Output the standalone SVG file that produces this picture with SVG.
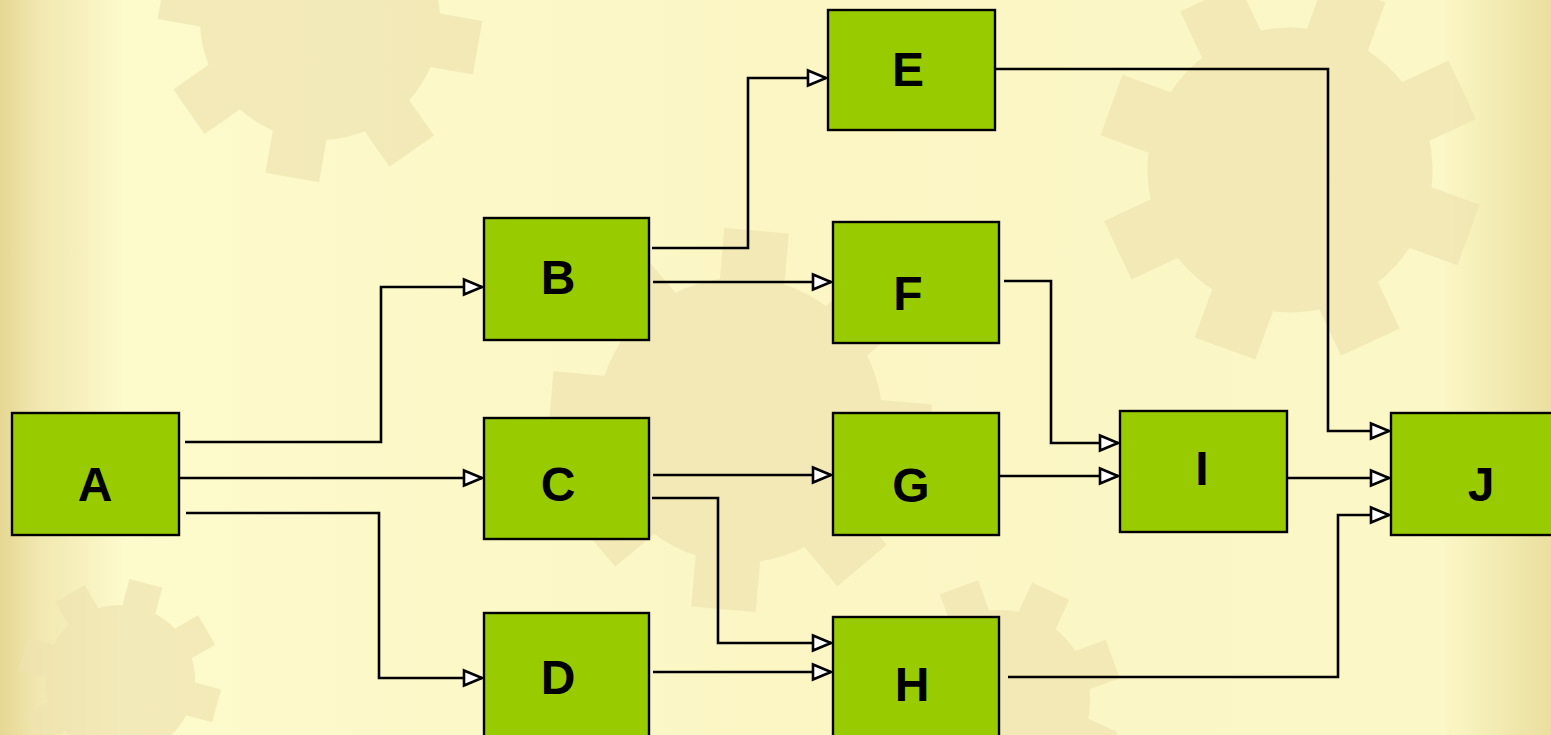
<svg xmlns="http://www.w3.org/2000/svg" xmlns:xlink="http://www.w3.org/1999/xlink" width="1551" height="735" viewBox="0 0 1551 735">
<defs>
<linearGradient id="bg" x1="0" y1="0" x2="1" y2="0">
<stop offset="0" stop-color="#E6D893"/>
<stop offset="0.025" stop-color="#F1E7B0"/>
<stop offset="0.08" stop-color="#FDFACC"/>
<stop offset="0.5" stop-color="#FBF6C4"/>
<stop offset="0.93" stop-color="#FBF7C6"/>
<stop offset="1" stop-color="#EADF9F"/>
</linearGradient>
<g id="gear">
<circle r="150"/>
<rect x="-34" y="-200" width="68" height="400"/>
<rect x="-34" y="-200" width="68" height="400" transform="rotate(45)"/>
<rect x="-34" y="-200" width="68" height="400" transform="rotate(90)"/>
<rect x="-34" y="-200" width="68" height="400" transform="rotate(135)"/>
</g>
<marker id="arr" markerUnits="userSpaceOnUse" markerWidth="26" markerHeight="22" viewBox="-22 -11 26 22" refX="0" refY="0" orient="auto">
<path d="M-18,-7.5 L0,0 L-18,7.5 Z" fill="#FFFFFF" stroke="#000000" stroke-width="2.6" stroke-linejoin="miter"/>
</marker>
<style>
.node rect{fill:#99CC00;stroke:#000000;stroke-width:2.4}
.node text{font-family:"Liberation Sans",Arial,sans-serif;font-weight:bold;font-size:48px;fill:#000000;text-anchor:middle}
.conn path{fill:none;stroke:#000000;stroke-width:2.6;marker-end:url(#arr)}
.gear{fill:#EFE4B1;opacity:0.7}
</style>
</defs>
<rect width="1551" height="735" fill="url(#bg)"/>
<g id="background">
<use xlink:href="#gear" class="gear" transform="translate(320,20) rotate(10) scale(0.8)"/>
<use xlink:href="#gear" class="gear" transform="translate(1290,170) rotate(20) scale(0.95)"/>
<use xlink:href="#gear" class="gear" transform="translate(740,420) rotate(5) scale(0.95)"/>
<use xlink:href="#gear" class="gear" transform="translate(1000,700) rotate(25) scale(0.6)"/>
<use xlink:href="#gear" class="gear" transform="translate(120,680) rotate(15) scale(0.5)"/>
</g>
<g id="connectors" class="conn">
<path d="M185,442 H381 V287 H482"/>
<path d="M179,478 H482"/>
<path d="M186,513 H379 V678 H482"/>
<path d="M652,248 H748 V78 H826"/>
<path d="M653,282 H831"/>
<path d="M653,475 H831"/>
<path d="M652,498 H718 V643 H831"/>
<path d="M653,672 H831"/>
<path d="M992,69 H1328 V431 H1389"/>
<path d="M1004,281 H1051 V443 H1118"/>
<path d="M999,476 H1118"/>
<path d="M1287,478 H1389"/>
<path d="M1008,677 H1338 V515 H1389"/>
</g>
<g id="node-A" class="node"><rect x="12" y="413" width="167" height="122"/><text x="95" y="501">A</text></g>
<g id="node-B" class="node"><rect x="484" y="218" width="165" height="122"/><text x="558" y="294">B</text></g>
<g id="node-C" class="node"><rect x="484" y="418" width="165" height="121"/><text x="558" y="501">C</text></g>
<g id="node-D" class="node"><rect x="484" y="613" width="165" height="125"/><text x="558" y="694">D</text></g>
<g id="node-E" class="node"><rect x="828" y="10" width="167" height="120"/><text x="908" y="86">E</text></g>
<g id="node-F" class="node"><rect x="833" y="222" width="166" height="121"/><text x="908" y="310">F</text></g>
<g id="node-G" class="node"><rect x="833" y="413" width="166" height="122"/><text x="911" y="502">G</text></g>
<g id="node-H" class="node"><rect x="833" y="617" width="166" height="125"/><text x="912" y="701">H</text></g>
<g id="node-I" class="node"><rect x="1120" y="411" width="167" height="121"/><text x="1202" y="485">I</text></g>
<g id="node-J" class="node"><rect x="1391" y="413" width="165" height="122"/><text x="1481" y="501">J</text></g>
</svg>
